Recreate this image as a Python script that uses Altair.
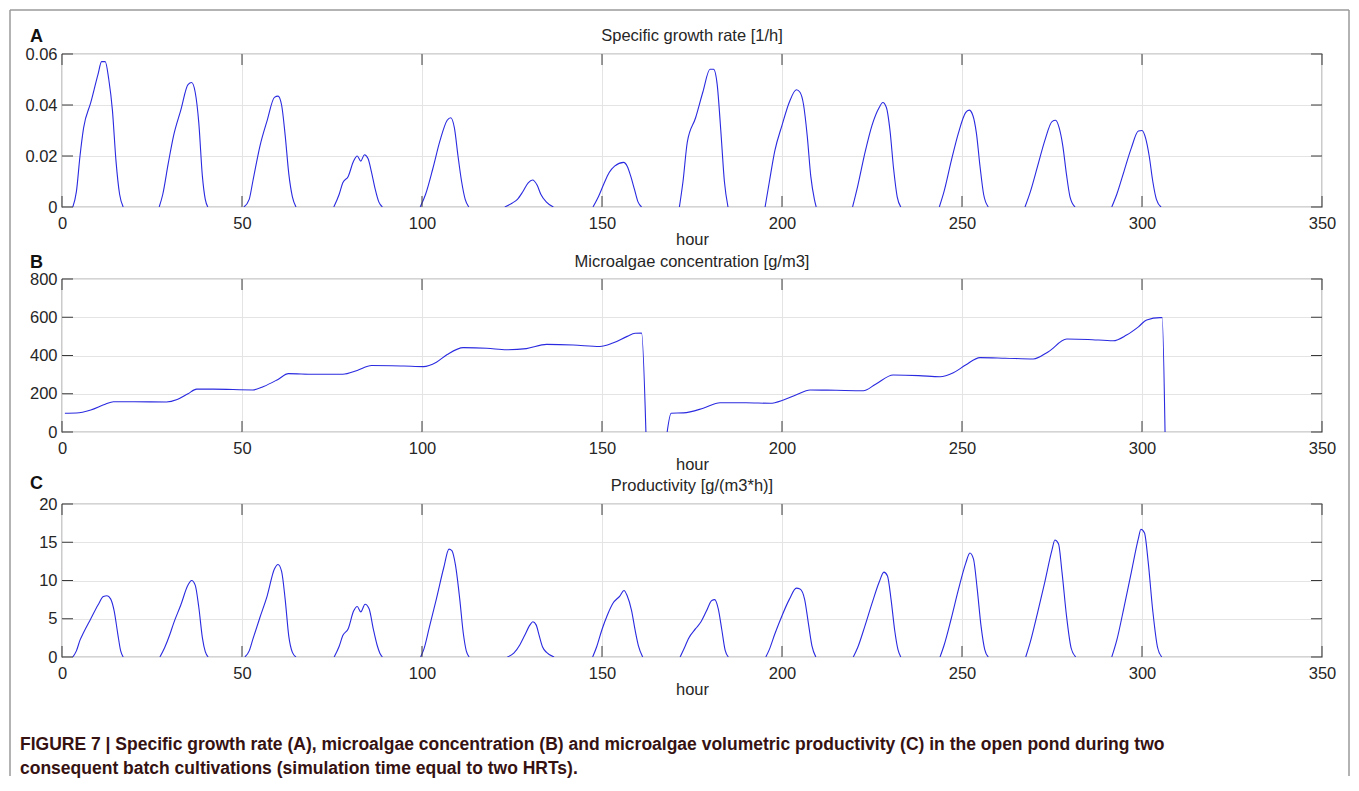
import altair as alt
import pandas as pd

# ---------------- data ----------------
X_TICKS = [0, 50, 100, 150, 200, 250, 300, 350]
A_TICKS = [0, 0.02, 0.04, 0.06]
B_TICKS = [0, 200, 400, 600, 800]
C_TICKS = [0, 5, 10, 15, 20]

# Panel A: specific growth rate [1/h], one list per daily peak
A_HOURS = [
    [3, 4, 5, 6, 8, 10, 11, 12, 13, 14, 15, 16, 17],
    [27, 28, 29.5, 31, 33, 35, 36, 37, 38, 39, 39.8, 40.5],
    [50.5, 52, 53, 55, 57, 59, 60, 61, 62, 63, 64, 65],
    [75.5, 77, 78, 79.5, 81, 82, 83, 84, 85, 86, 87, 88, 89],
    [99.5, 101, 103, 105, 107, 108, 109, 110, 111, 112, 113],
    [123, 125, 126.5, 128, 129.5, 130.7, 132, 133, 134.5, 136.5],
    [147.5, 149, 150.5, 152, 153.5, 156, 157, 158, 159, 160, 161],
    [171.5, 172.5, 173.7, 176, 178, 180, 181, 182, 183, 184, 185],
    [195.3, 196.5, 198, 200, 202, 204, 205, 206, 207, 208, 209, 209.5],
    [219.6, 221, 223, 225, 227, 228, 229, 230, 231, 232, 233],
    [243.7, 245, 247, 249, 251, 252, 253, 254, 255, 256, 257.3],
    [267.5, 269, 271, 273, 275, 276, 277, 278, 279, 280, 281.4],
    [291.6, 293, 295, 297, 299, 300, 301, 302, 303, 304, 305.3],
]
A_RATE = [
    [0, 0.006, 0.02, 0.031, 0.041, 0.052, 0.057, 0.057, 0.050, 0.038, 0.018, 0.005, 0],
    [0, 0.005, 0.017, 0.028, 0.038, 0.048, 0.0488, 0.045, 0.033, 0.012, 0.003, 0],
    [0, 0.003, 0.01, 0.024, 0.034, 0.043, 0.0435, 0.04, 0.028, 0.013, 0.004, 0],
    [0, 0.005, 0.0095, 0.012, 0.018, 0.020, 0.018, 0.0205, 0.019, 0.0135, 0.007, 0.002, 0],
    [0, 0.005, 0.015, 0.026, 0.034, 0.035, 0.031, 0.02, 0.01, 0.003, 0],
    [0, 0.0015, 0.003, 0.006, 0.0095, 0.0106, 0.0085, 0.005, 0.002, 0],
    [0, 0.004, 0.009, 0.0135, 0.016, 0.0175, 0.016, 0.012, 0.007, 0.002, 0],
    [0, 0.01, 0.0255, 0.035, 0.045, 0.054, 0.054, 0.048, 0.03, 0.01, 0],
    [0, 0.01, 0.022, 0.032, 0.041, 0.046, 0.045, 0.04, 0.028, 0.012, 0.003, 0],
    [0, 0.008, 0.021, 0.032, 0.039, 0.041, 0.039, 0.03, 0.015, 0.004, 0],
    [0, 0.006, 0.018, 0.029, 0.037, 0.038, 0.036, 0.029, 0.016, 0.005, 0],
    [0, 0.006, 0.016, 0.026, 0.0335, 0.034, 0.031, 0.024, 0.013, 0.004, 0],
    [0, 0.005, 0.014, 0.023, 0.0298, 0.030, 0.027, 0.02, 0.01, 0.003, 0],
]

# Panel B: microalgae concentration [g/m3], two batch cultivations
B_HOURS = [
    [0.8, 4, 8, 12, 14.3, 20, 29, 32, 35, 37.4, 42, 53, 56, 60, 62.9, 70, 78, 82, 86,
     95, 100.4, 104, 107, 111.5, 118, 123.5, 129, 134.6, 142, 149.4, 153, 157, 159.2,
     161, 162.2],
    [168.1, 169.2, 172.6, 178.1, 182.8, 190, 196.7, 200.4, 204, 207.8, 215, 222.6, 226,
     230.9, 238, 243.9, 247.6, 251, 255, 262, 269.8, 274, 279.1, 285, 292, 295.7, 299,
     301.3, 305, 305.6, 306.4],
]
B_CONC = [
    [98, 99, 115, 145, 158, 158, 157, 170, 200, 224, 224, 220, 238, 275, 305, 302, 302,
     322, 348, 345, 342, 365, 405, 441, 438, 430, 436, 458, 455, 447, 465, 500, 516,
     517, 0],
    [0, 98, 100, 124, 153, 153, 150, 167, 195, 220, 218, 216, 250, 298, 295, 289, 310,
     350, 389, 386, 382, 420, 486, 484, 477, 507, 550, 586, 598, 598, 0],
]

# Panel C: productivity [g/(m3*h)], one list per daily peak
C_HOURS = [
    [3, 4, 5, 6, 8, 10, 11.5, 12.5, 13.5, 14.5, 15.5, 16.3, 17],
    [27.2, 28.5, 30, 31, 33, 35, 36, 37, 38, 39, 39.8, 40.6],
    [50.8, 52, 53, 55, 57, 59, 60, 61, 62, 63, 64, 65],
    [75.6, 77, 78, 79.5, 81, 82, 83, 84.2, 85.3, 86.5, 87.5, 88.3, 89],
    [99.6, 100.5, 102, 104, 106, 107.5, 108.3, 109.3, 110.5, 111.5, 112.3, 113.1],
    [123.7, 125.5, 127.2, 128.5, 130, 130.8, 131.7, 132.5, 133.5, 134.6, 136.7],
    [147.4, 148.5, 150, 151.5, 153, 155, 156.1, 157, 158.2, 159.2, 160.1, 161.3],
    [171.7, 173, 174, 176, 177.5, 179, 180.5, 181.3, 182.3, 183.3, 184.2, 185.1],
    [195.5, 196.5, 198, 200, 202, 204, 205, 206.3, 207.3, 208.3, 209.4],
    [219.8, 221, 223, 225, 227, 228.3, 229.3, 230.3, 231.3, 232.2, 233],
    [243.9, 245, 247, 249, 251, 252.2, 253.2, 254.2, 255.3, 256.3, 257.3],
    [267.7, 269, 271, 273, 275, 275.8, 276.8, 277.8, 279, 280.3, 281.6],
    [291.6, 293, 295, 297, 299, 299.7, 300.7, 301.7, 303, 304.3, 305.5],
]
C_PROD = [
    [0, 0.8, 2.2, 3.2, 5.0, 6.8, 7.9, 8.0, 7.6, 6.0, 3.0, 0.8, 0],
    [0, 1.2, 3.0, 4.4, 6.8, 9.4, 10.0, 9.4, 6.5, 2.5, 0.7, 0],
    [0, 0.8, 2.3, 5.2, 8.0, 11.5, 12.1, 11.2, 7.5, 2.7, 0.6, 0],
    [0, 1.4, 2.8, 3.7, 6.0, 6.6, 5.9, 6.9, 6.3, 3.6, 1.6, 0.5, 0],
    [0, 1.0, 3.8, 7.6, 11.6, 14.1, 13.9, 12.0, 7.5, 3.0, 0.8, 0],
    [0, 0.5, 1.6, 2.8, 4.2, 4.6, 4.2, 2.9, 1.3, 0.6, 0],
    [0, 1.3, 3.6, 5.5, 7.0, 8.0, 8.7, 8.0, 6.1, 3.5, 1.5, 0],
    [0, 1.3, 2.4, 3.7, 4.6, 6.0, 7.4, 7.5, 6.3, 3.5, 0.9, 0],
    [0, 1.0, 3.0, 5.4, 7.5, 9.0, 8.9, 7.5, 4.5, 1.5, 0],
    [0, 1.2, 4.0, 7.0, 9.8, 11.1, 10.6, 7.5, 3.5, 1.0, 0],
    [0, 1.5, 5.0, 8.8, 12.2, 13.6, 12.8, 9.0, 4.0, 1.0, 0],
    [0, 2.0, 5.8, 9.8, 14.0, 15.3, 14.8, 11.0, 5.5, 1.2, 0],
    [0, 2.2, 6.5, 11.0, 15.5, 16.7, 16.2, 12.5, 6.0, 1.3, 0],
]

CAPTION_LINE1 = ("FIGURE 7 | Specific growth rate (A), microalgae concentration (B) and "
                 "microalgae volumetric productivity (C) in the open pond during two")
CAPTION_LINE2 = "consequent batch cultivations (simulation time equal to two HRTs)."

# ---------------- styling ----------------
W, H = 1260, 153
FONT = "Liberation Sans, Arial, Helvetica, sans-serif"
FS = 16.5
LINE = "#2a2ae0"
TICK = "#3a3a3a"
GRID = "#e4e4e4"
TXT = "#262626"


def to_frame(hours, values, col):
    rows = []
    for i, (hs, vs) in enumerate(zip(hours, values)):
        for h, v in zip(hs, vs):
            rows.append({"hour": h, col: v, "seg": i})
    return pd.DataFrame(rows)


def text_layer(txt, x, y, size, weight="normal", color=TXT, align="left"):
    return alt.Chart(pd.DataFrame({"t": [txt]})).mark_text(
        font=FONT, fontSize=size, fontWeight=weight, color=color, align=align,
        baseline="alphabetic"
    ).encode(text="t:N", x=alt.value(x), y=alt.value(y))


def panel(df, col, ydomain, yticks, yfmt, title, letter, title_y, letter_y, extra=None):
    xs = alt.Scale(domain=[0, 350], nice=False, zero=False)
    ys = alt.Scale(domain=ydomain, nice=False, zero=False)
    x_axis = alt.Axis(values=X_TICKS, format="d", title="hour", grid=True,
                      ticks=False, domain=False, labelPadding=8, titlePadding=0,
                      labelFlush=False)
    y_axis = alt.Axis(values=yticks, format=yfmt, title=None, grid=True,
                      ticks=False, domain=False, labelPadding=5, labelFlush=False)
    X = lambda: alt.X("hour:Q", scale=xs, axis=x_axis)
    Y = lambda: alt.Y(f"{col}:Q", scale=ys, axis=y_axis)

    line = alt.Chart(df).mark_line(
        color=LINE, strokeWidth=1.1, clip=True, interpolate="monotone"
    ).encode(x=X(), y=Y(), detail="seg:N")

    xt = pd.DataFrame({"hour": X_TICKS})
    yt = pd.DataFrame({col: yticks})
    tick_bot = alt.Chart(xt).mark_rule(color=TICK, strokeWidth=1).encode(
        x=X(), y=alt.value(H), y2=alt.value(H - 11))
    tick_top = alt.Chart(xt).mark_rule(color=TICK, strokeWidth=1).encode(
        x=X(), y=alt.value(0), y2=alt.value(11))
    tick_left = alt.Chart(yt).mark_rule(color=TICK, strokeWidth=1).encode(
        y=Y(), x=alt.value(0), x2=alt.value(11))
    tick_right = alt.Chart(yt).mark_rule(color=TICK, strokeWidth=1).encode(
        y=Y(), x=alt.value(W), x2=alt.value(W - 11))
    ttl = text_layer(title, W / 2, title_y, FS, align="center")
    let = text_layer(letter, -32, letter_y, 18, weight="bold", color="#111111")
    layers = [line, tick_bot, tick_top, tick_left, tick_right, ttl, let]
    if extra:
        layers += extra
    return alt.layer(*layers).properties(width=W, height=H)


dfA = to_frame(A_HOURS, A_RATE, "rate")
dfB = to_frame(B_HOURS, B_CONC, "conc")
dfC = to_frame(C_HOURS, C_PROD, "prod")

# outer figure frame (left, top, right edges)
frame_df = pd.DataFrame({"k": [0]})
FRAME = "#9a9a9a"
FT, FL, FR, FB = -44, -52, 1287, 722
frame = [
    alt.Chart(frame_df).mark_rule(color=FRAME, strokeWidth=1.5).encode(
        x=alt.value(FL), y=alt.value(FT), y2=alt.value(FB)),
    alt.Chart(frame_df).mark_rule(color=FRAME, strokeWidth=1.5).encode(
        x=alt.value(FL), x2=alt.value(FR), y=alt.value(FT)),
    alt.Chart(frame_df).mark_rule(color=FRAME, strokeWidth=1.5).encode(
        x=alt.value(FR), y=alt.value(FT), y2=alt.value(FB)),
]

CAP_COLOR = "#361212"
caption = [
    text_layer(CAPTION_LINE1, -42, 246, 17.5, weight="bold", color=CAP_COLOR),
    text_layer(CAPTION_LINE2, -42, 270, 17.5, weight="bold", color=CAP_COLOR),
]

pA = panel(dfA, "rate", [0, 0.06], A_TICKS, ".2~f", "Specific growth rate [1/h]", "A",
           -13, -12, extra=frame)
pB = panel(dfB, "conc", [0, 800], B_TICKS, "d", "Microalgae concentration [g/m3]", "B",
           -12, -11)
pC = panel(dfC, "prod", [0, 20], C_TICKS, "d", "Productivity [g/(m3*h)]", "C",
           -13, -15, extra=caption)

chart = alt.vconcat(pA, pB, pC, spacing=72, bounds="flush").properties(
    padding=0, background="white"
).configure_view(
    stroke="#555555", strokeWidth=1.2
).configure_axis(
    labelFont=FONT, labelFontSize=FS, labelColor=TXT,
    titleFont=FONT, titleFontSize=FS, titleFontWeight="normal", titleColor=TXT,
    gridColor=GRID, gridWidth=1,
)

chart.save("out.html", embed_options={"renderer": "svg", "actions": False})
